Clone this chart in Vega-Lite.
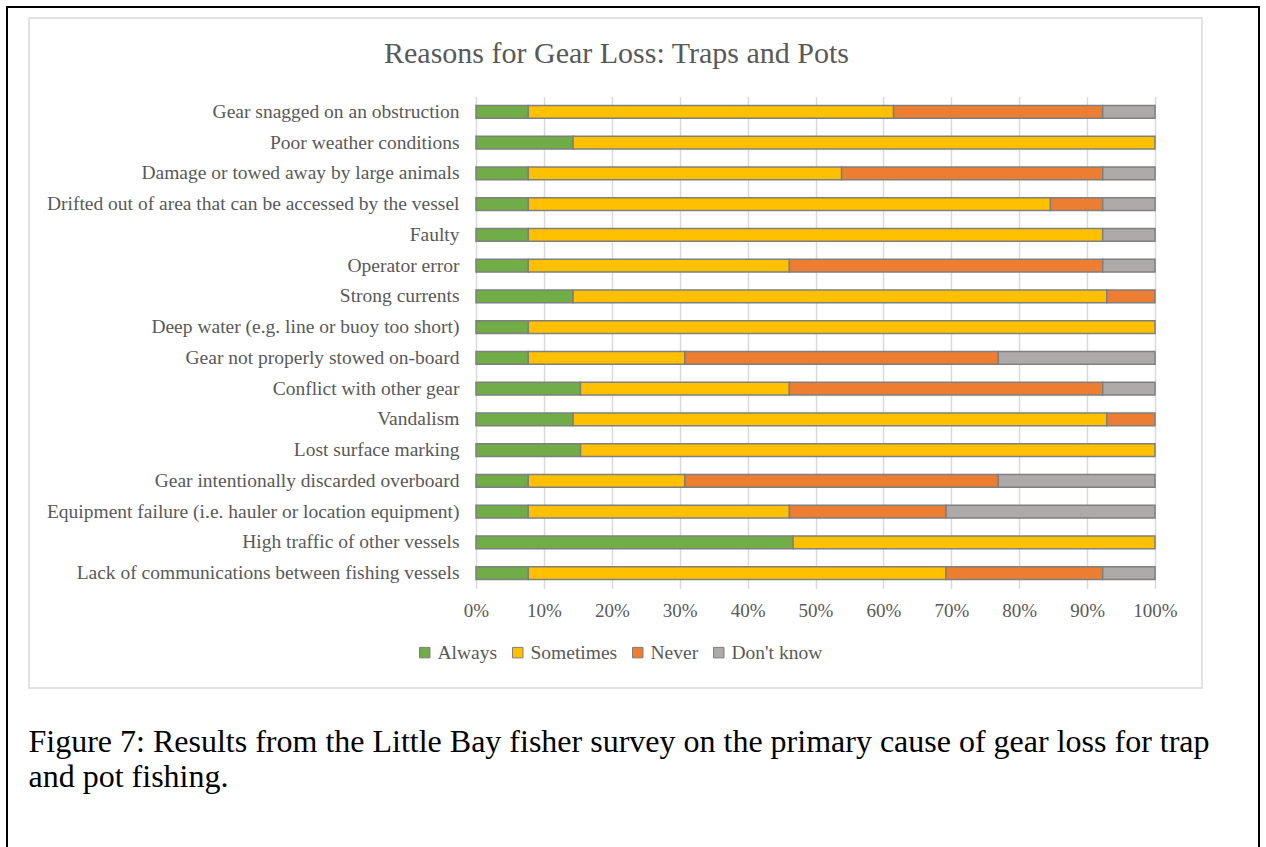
{
  "$schema": "https://vega.github.io/schema/vega-lite/v6.json",
  "width": 679,
  "height": 492,
  "autosize": {"type": "none"},
  "padding": {"left": 476, "top": 96.5, "right": 111, "bottom": 258.5},
  "background": "white",
  "datasets": {
    "gear": [
      {"reason": "Gear snagged on an obstruction", "response": "Always", "pct": 7.7},
      {"reason": "Gear snagged on an obstruction", "response": "Sometimes", "pct": 53.8},
      {"reason": "Gear snagged on an obstruction", "response": "Never", "pct": 30.8},
      {"reason": "Gear snagged on an obstruction", "response": "Don't know", "pct": 7.7},
      {"reason": "Poor weather conditions", "response": "Always", "pct": 14.3},
      {"reason": "Poor weather conditions", "response": "Sometimes", "pct": 85.7},
      {"reason": "Damage or towed away by large animals", "response": "Always", "pct": 7.7},
      {"reason": "Damage or towed away by large animals", "response": "Sometimes", "pct": 46.2},
      {"reason": "Damage or towed away by large animals", "response": "Never", "pct": 38.5},
      {"reason": "Damage or towed away by large animals", "response": "Don't know", "pct": 7.7},
      {"reason": "Drifted out of area that can be accessed by the vessel", "response": "Always", "pct": 7.7},
      {"reason": "Drifted out of area that can be accessed by the vessel", "response": "Sometimes", "pct": 76.9},
      {"reason": "Drifted out of area that can be accessed by the vessel", "response": "Never", "pct": 7.7},
      {"reason": "Drifted out of area that can be accessed by the vessel", "response": "Don't know", "pct": 7.7},
      {"reason": "Faulty", "response": "Always", "pct": 7.7},
      {"reason": "Faulty", "response": "Sometimes", "pct": 84.6},
      {"reason": "Faulty", "response": "Don't know", "pct": 7.7},
      {"reason": "Operator error", "response": "Always", "pct": 7.7},
      {"reason": "Operator error", "response": "Sometimes", "pct": 38.5},
      {"reason": "Operator error", "response": "Never", "pct": 46.2},
      {"reason": "Operator error", "response": "Don't know", "pct": 7.7},
      {"reason": "Strong currents", "response": "Always", "pct": 14.3},
      {"reason": "Strong currents", "response": "Sometimes", "pct": 78.6},
      {"reason": "Strong currents", "response": "Never", "pct": 7.1},
      {"reason": "Deep water (e.g. line or buoy too short)", "response": "Always", "pct": 7.7},
      {"reason": "Deep water (e.g. line or buoy too short)", "response": "Sometimes", "pct": 92.3},
      {"reason": "Gear not properly stowed on-board", "response": "Always", "pct": 7.7},
      {"reason": "Gear not properly stowed on-board", "response": "Sometimes", "pct": 23.1},
      {"reason": "Gear not properly stowed on-board", "response": "Never", "pct": 46.2},
      {"reason": "Gear not properly stowed on-board", "response": "Don't know", "pct": 23.1},
      {"reason": "Conflict with other gear", "response": "Always", "pct": 15.4},
      {"reason": "Conflict with other gear", "response": "Sometimes", "pct": 30.8},
      {"reason": "Conflict with other gear", "response": "Never", "pct": 46.2},
      {"reason": "Conflict with other gear", "response": "Don't know", "pct": 7.7},
      {"reason": "Vandalism", "response": "Always", "pct": 14.3},
      {"reason": "Vandalism", "response": "Sometimes", "pct": 78.6},
      {"reason": "Vandalism", "response": "Never", "pct": 7.1},
      {"reason": "Lost surface marking", "response": "Always", "pct": 15.4},
      {"reason": "Lost surface marking", "response": "Sometimes", "pct": 84.6},
      {"reason": "Gear intentionally discarded overboard", "response": "Always", "pct": 7.7},
      {"reason": "Gear intentionally discarded overboard", "response": "Sometimes", "pct": 23.1},
      {"reason": "Gear intentionally discarded overboard", "response": "Never", "pct": 46.2},
      {"reason": "Gear intentionally discarded overboard", "response": "Don't know", "pct": 23.1},
      {"reason": "Equipment failure (i.e. hauler or location equipment)", "response": "Always", "pct": 7.7},
      {"reason": "Equipment failure (i.e. hauler or location equipment)", "response": "Sometimes", "pct": 38.5},
      {"reason": "Equipment failure (i.e. hauler or location equipment)", "response": "Never", "pct": 23.1},
      {"reason": "Equipment failure (i.e. hauler or location equipment)", "response": "Don't know", "pct": 30.8},
      {"reason": "High traffic of other vessels", "response": "Always", "pct": 46.7},
      {"reason": "High traffic of other vessels", "response": "Sometimes", "pct": 53.3},
      {"reason": "Lack of communications between fishing vessels", "response": "Always", "pct": 7.7},
      {"reason": "Lack of communications between fishing vessels", "response": "Sometimes", "pct": 61.5},
      {"reason": "Lack of communications between fishing vessels", "response": "Never", "pct": 23.1},
      {"reason": "Lack of communications between fishing vessels", "response": "Don't know", "pct": 7.7}
    ]
  },
  "layer": [
    {
      "data": {"values": [{"frame": "page"}]},
      "mark": {"type": "rect", "fill": "white", "fillOpacity": 0, "stroke": "black", "strokeWidth": 2},
      "encoding": {
        "x": {"value": -469},
        "x2": {"value": 783},
        "y": {"value": -89.5},
        "y2": {"value": 820}
      }
    },
    {
      "data": {"values": [{"frame": "chart"}]},
      "mark": {"type": "rect", "fill": "white", "fillOpacity": 0, "stroke": "#d9d9d9", "strokeWidth": 1.5},
      "encoding": {
        "x": {"value": -447},
        "x2": {"value": 726},
        "y": {"value": -78.5},
        "y2": {"value": 591.5}
      }
    },
    {
      "data": {"name": "gear"},
      "transform": [
        {"calculate": "indexof(['Always', 'Sometimes', 'Never', \"Don't know\"], datum.response)", "as": "rank"}
      ],
      "mark": {"type": "bar", "stroke": "#7f7f7f", "strokeWidth": 1.5},
      "encoding": {
        "y": {
          "field": "reason",
          "type": "nominal",
          "sort": null,
          "scale": {"paddingInner": 0.58, "paddingOuter": 0.29},
          "axis": {
            "domain": false,
            "ticks": false,
            "grid": false,
            "labelFont": "Liberation Serif",
            "labelFontSize": 19.5,
            "labelColor": "#595959",
            "labelPadding": 17,
            "labelLimit": 0,
            "title": "Reasons for Gear Loss: Traps and Pots",
            "titleFont": "Liberation Serif",
            "titleFontSize": 30,
            "titleFontWeight": "normal",
            "titleColor": "#595959",
            "titleAngle": 0,
            "titleAlign": "center",
            "titleBaseline": "alphabetic",
            "titleX": 140,
            "titleY": -34
          }
        },
        "x": {
          "field": "pct",
          "type": "quantitative",
          "stack": "normalize",
          "scale": {"domain": [0, 1], "nice": false},
          "axis": {
            "values": [0, 0.1, 0.2, 0.3, 0.4, 0.5, 0.6, 0.7, 0.8, 0.9, 1],
            "format": ".0%",
            "domain": false,
            "ticks": false,
            "grid": true,
            "gridColor": "#d9d9d9",
            "gridWidth": 1.5,
            "labelFont": "Liberation Serif",
            "labelFontSize": 19,
            "labelColor": "#595959",
            "labelPadding": 13,
            "labelFlush": false,
            "title": ["Figure 7: Results from the Little Bay fisher survey on the primary cause of gear loss for trap", "and pot fishing."],
            "titleFont": "Liberation Serif",
            "titleFontSize": 32,
            "titleFontWeight": "normal",
            "titleColor": "black",
            "titleAlign": "left",
            "titleAnchor": "start",
            "titleBaseline": "alphabetic",
            "titleX": -448,
            "titleY": 163,
            "titleLineHeight": 35
          }
        },
        "order": {"field": "rank", "type": "quantitative"},
        "color": {
          "field": "response",
          "type": "nominal",
          "scale": {
            "domain": ["Always", "Sometimes", "Never", "Don't know"],
            "range": ["#70ad47", "#ffc000", "#ed7d31", "#aeaaaa"]
          },
          "legend": {
            "orient": "none",
            "legendX": -61,
            "legendY": 546,
            "direction": "horizontal",
            "title": null,
            "symbolType": "square",
            "symbolSize": 110,
            "symbolStrokeColor": "#7f7f7f",
            "symbolStrokeWidth": 1,
            "symbolOpacity": 1,
            "labelFont": "Liberation Serif",
            "labelFontSize": 19.5,
            "labelColor": "#595959",
            "labelOffset": 3,
            "columnPadding": 10
          }
        }
      }
    }
  ],
  "config": {
    "view": {"stroke": null}
  }
}
